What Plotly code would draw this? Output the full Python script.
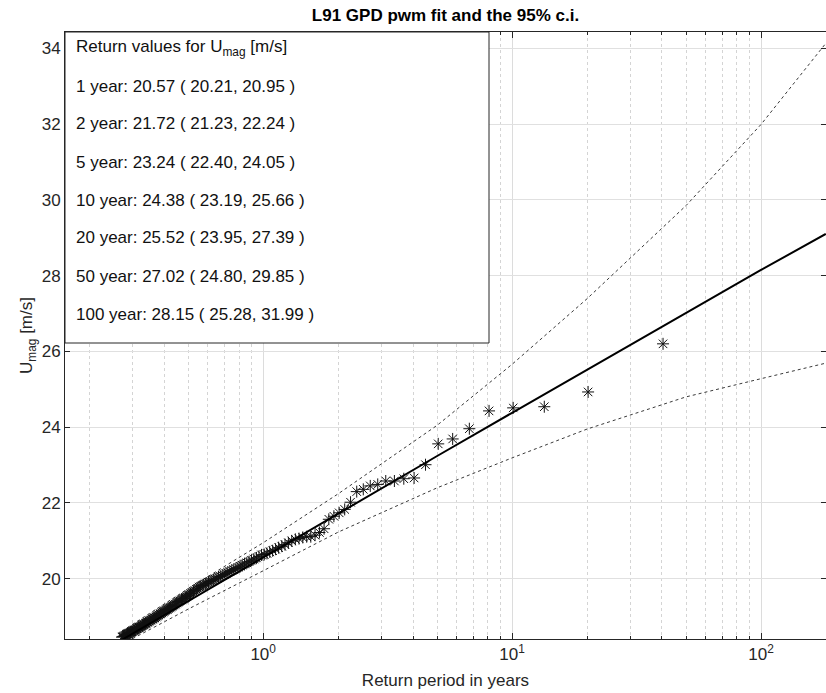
import plotly.graph_objects as go

# ---- data ----
return_years = [1, 2, 5, 10, 20, 50, 100]
return_values = [20.57, 21.72, 23.24, 24.38, 25.52, 27.02, 28.15]
return_lo = [20.21, 21.23, 22.40, 23.19, 23.95, 24.80, 25.28]
return_hi = [20.95, 22.24, 24.05, 25.66, 27.39, 29.85, 31.99]

# fitted curve and confidence bounds (return period in years)
curve_T = [0.271, 0.5, 1, 2, 5, 10, 20, 50, 100, 182]
curve_fit = [18.39, 19.41, 20.57, 21.72, 23.24, 24.38, 25.52, 27.02, 28.15, 29.10]
curve_lo = [18.27, 19.20, 20.21, 21.23, 22.40, 23.19, 23.95, 24.80, 25.28, 25.69]
curve_hi = [18.62, 19.74, 20.95, 22.24, 24.05, 25.66, 27.39, 29.85, 31.99, 34.13]

# empirical points
obs_T = [
    40.4, 20.2, 13.47, 10.1, 8.08, 6.733, 5.771, 5.05, 4.489, 4.04,
    3.673, 3.367, 3.108, 2.886, 2.693, 2.525, 2.376, 2.244, 2.126, 2.02,
    1.924, 1.836, 1.757, 1.683, 1.616, 1.554, 1.496, 1.443, 1.393, 1.347,
    1.303, 1.263, 1.224, 1.188, 1.154, 1.122, 1.092, 1.063, 1.036, 1.01,
    0.985, 0.962, 0.940, 0.918, 0.898, 0.878, 0.860, 0.842, 0.824, 0.808,
    0.792, 0.777, 0.762, 0.748, 0.735, 0.721, 0.709, 0.697, 0.685, 0.673,
    0.662, 0.652, 0.641, 0.631, 0.622, 0.612, 0.603, 0.594, 0.586, 0.577,
    0.569, 0.561, 0.553, 0.546, 0.539, 0.532, 0.525, 0.518, 0.511, 0.505,
    0.499, 0.493, 0.487, 0.481, 0.475, 0.470, 0.464, 0.459, 0.454, 0.449,
    0.444, 0.439, 0.434, 0.430, 0.425, 0.421, 0.416, 0.412, 0.408, 0.404,
    0.400, 0.396, 0.392, 0.388, 0.385, 0.381, 0.378, 0.374, 0.371, 0.367,
    0.364, 0.361, 0.358, 0.354, 0.351, 0.348, 0.345, 0.342, 0.339, 0.337,
    0.334, 0.331, 0.328, 0.326, 0.323, 0.321, 0.318, 0.316, 0.313, 0.311,
    0.308, 0.306, 0.304, 0.301, 0.299, 0.297, 0.295, 0.293, 0.291, 0.289,
    0.287, 0.285, 0.283, 0.281, 0.279, 0.277, 0.275, 0.273, 0.271,
]
obs_U = [
    26.20, 24.93, 24.54, 24.51, 24.43, 23.96, 23.69, 23.56, 23.01, 22.66,
    22.64, 22.58, 22.58, 22.49, 22.45, 22.36, 22.30, 22.02, 21.83, 21.74,
    21.65, 21.57, 21.32, 21.22, 21.15, 21.11, 21.11, 21.09, 21.06, 21.04,
    21.00, 20.95, 20.90, 20.86, 20.82, 20.78, 20.74, 20.71, 20.67, 20.64,
    20.63, 20.59, 20.55, 20.52, 20.49, 20.45, 20.42, 20.39, 20.36, 20.33,
    20.30, 20.27, 20.24, 20.22, 20.19, 20.16, 20.14, 20.11, 20.09, 20.06,
    20.04, 20.01, 19.99, 19.97, 19.95, 19.93, 19.91, 19.88, 19.86, 19.84,
    19.82, 19.80, 19.78, 19.75, 19.72, 19.69, 19.66, 19.63, 19.61, 19.58,
    19.56, 19.53, 19.51, 19.48, 19.46, 19.44, 19.42, 19.40, 19.38, 19.36,
    19.33, 19.31, 19.29, 19.27, 19.25, 19.23, 19.21, 19.19, 19.18, 19.16,
    19.14, 19.12, 19.10, 19.08, 19.07, 19.05, 19.03, 19.01, 18.99, 18.97,
    18.96, 18.94, 18.93, 18.91, 18.90, 18.88, 18.86, 18.85, 18.83, 18.82,
    18.80, 18.79, 18.77, 18.76, 18.74, 18.73, 18.72, 18.71, 18.69, 18.68,
    18.66, 18.65, 18.64, 18.63, 18.61, 18.60, 18.59, 18.58, 18.57, 18.56,
    18.55, 18.54, 18.53, 18.51, 18.50, 18.49, 18.48, 18.47, 18.46,
]

x_major = [1, 10, 100]
x_major_text = ["10<sup>0</sup>", "10<sup>1</sup>", "10<sup>2</sup>"]
x_minor = [0.2, 0.3, 0.4, 0.5, 0.6, 0.7, 0.8, 0.9,
           2, 3, 4, 5, 6, 7, 8, 9,
           20, 30, 40, 50, 60, 70, 80, 90]

FONT = "Liberation Sans, Arial, Helvetica, sans-serif"
AX = "#262626"
FS = 17

fig = go.Figure()
fig.add_trace(go.Scatter(x=curve_T, y=curve_hi, mode="lines",
                         line=dict(color="#3a3a3a", width=1, dash="3px,3px")))
fig.add_trace(go.Scatter(x=curve_T, y=curve_lo, mode="lines",
                         line=dict(color="#3a3a3a", width=1, dash="3px,3px")))
fig.add_trace(go.Scatter(x=obs_T, y=obs_U, mode="markers",
                         marker=dict(symbol="asterisk-open", size=10, color="#111111",
                                     line=dict(width=1))))
fig.add_trace(go.Scatter(x=curve_T, y=curve_fit, mode="lines",
                         line=dict(color="#000000", width=2)))

# legend-like text box
box_right = (489 - 65) / 761
box_bottom = (639 - 343) / 607
fig.add_shape(type="rect", xref="paper", yref="paper",
              x0=0, x1=box_right, y0=box_bottom, y1=1,
              fillcolor="white", line=dict(color="#262626", width=1), layer="above")

lines = ["Return values for U<sub>mag</sub> [m/s]"]
for yr, v, lo, hi in zip(return_years, return_values, return_lo, return_hi):
    lines.append(f"{yr} year: {v:.2f} ( {lo:.2f}, {hi:.2f} )")
for i, t in enumerate(lines):
    ypix = 48 + 38 * i
    fig.add_annotation(text=t, xref="paper", yref="paper",
                       x=(74 - 65) / 761, y=(639 - ypix) / 607,
                       xanchor="left", yanchor="middle", showarrow=False,
                       font=dict(family=FONT, size=FS, color="#111111"))

fig.update_layout(
    width=826, height=693,
    margin=dict(l=65, r=0, t=32, b=54),
    paper_bgcolor="white", plot_bgcolor="white",
    showlegend=False,
    font=dict(family=FONT, size=FS, color=AX),
    title=dict(text="<b>L91 GPD pwm fit and the 95% c.i.</b>",
               x=0.5, xref="paper", xanchor="center",
               y=1 - 15 / 693, yref="container", yanchor="middle",
               font=dict(family=FONT, size=17, color="#000000")),
)
fig.update_xaxes(
    type="log", range=[-0.796, 2.261],
    tickmode="array", tickvals=x_major, ticktext=x_major_text,
    ticks="inside", ticklen=6, tickcolor=AX,
    showline=True, linecolor=AX, linewidth=1, mirror="ticks",
    showgrid=True, gridcolor="#dcdcdc", gridwidth=1,
    minor=dict(tickmode="array", tickvals=x_minor, ticks="inside", ticklen=3,
               tickcolor=AX, showgrid=True, gridcolor="#d4d4d4", griddash="dot"),
    zeroline=False,
    title=dict(text="Return period in years", standoff=10,
               font=dict(family=FONT, size=FS, color=AX)),
    tickfont=dict(family=FONT, size=FS, color=AX),
)
fig.update_yaxes(
    range=[18.41, 34.43], dtick=2, tick0=20,
    ticks="inside", ticklen=5, tickcolor=AX,
    showline=True, linecolor=AX, linewidth=1, mirror="ticks",
    showgrid=True, gridcolor="#e0e0e0", gridwidth=1, zeroline=False,
    title=dict(text="U<sub>mag</sub> [m/s]", standoff=4,
               font=dict(family=FONT, size=FS, color=AX)),
    tickfont=dict(family=FONT, size=FS, color=AX),
)

fig.write_html("out.html")
